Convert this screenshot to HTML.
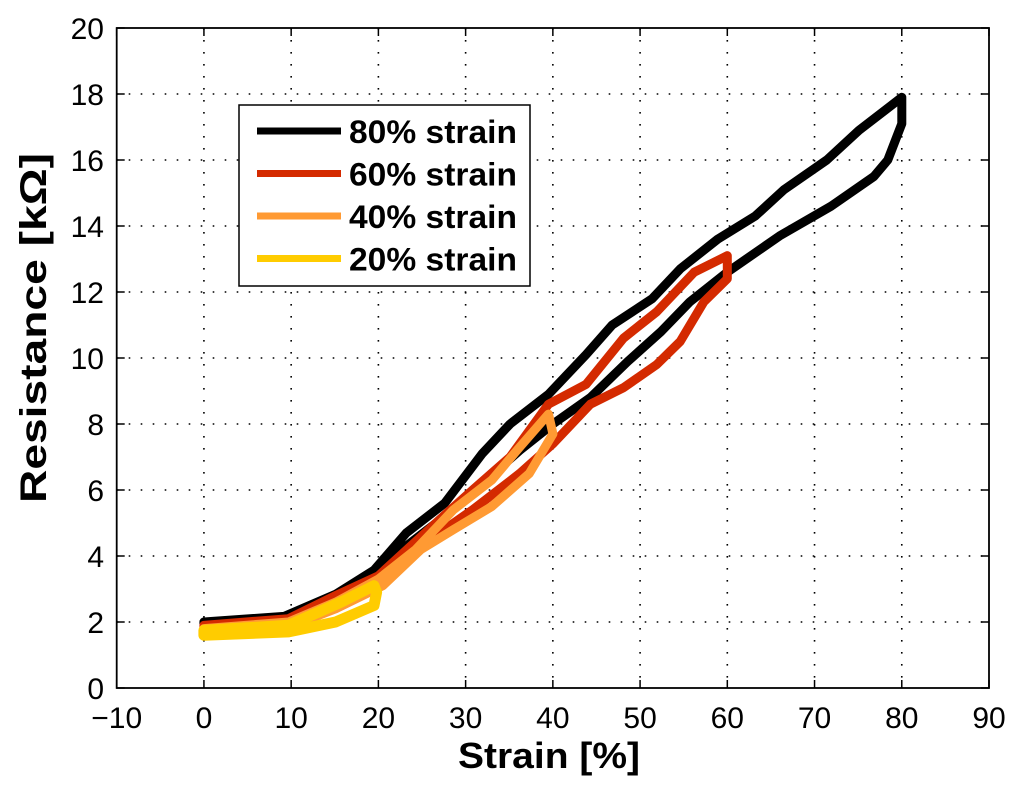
<!DOCTYPE html>
<html><head><meta charset="utf-8"><style>
body{margin:0;background:#fff}
svg{display:block;font-family:"Liberation Sans",sans-serif}
</style></head><body>
<svg id="chart" width="1024" height="794" viewBox="0 0 1024 794">
<rect width="1024" height="794" fill="#fff"/>
<g id="grid"></g>
<g id="series"></g>
<g id="axes"></g>
<text x="549" y="768" text-anchor="middle" font-size="36" font-weight="bold" textLength="182" lengthAdjust="spacingAndGlyphs">Strain [%]</text>
<text transform="translate(46,328) rotate(-90)" text-anchor="middle" font-size="37" font-weight="bold" textLength="350" lengthAdjust="spacingAndGlyphs">Resistance [kΩ]</text>
<g id="legend">
<rect x="239" y="105" width="291" height="181" fill="#fff" stroke="#000" stroke-width="1.5"/>
</g>
</svg>
<script>
const xTicks=[-10,0,10,20,30,40,50,60,70,80,90];
const yTicks=[0,2,4,6,8,10,12,14,16,18,20];
const seriesNames=["80% strain","60% strain","40% strain","20% strain"];
const seriesColors=["#000000","#d42a00","#ff9a33","#ffcc00"];
const s80x=[0,9.2,15.1,19.5,23.2,27.6,31.9,35.1,39.5,43.8,46.8,51.4,54.6,58.9,63.2,66.5,71.4,75.1,80,80,78.4,76.8,71.9,66,60,55.7,52.4,48.6,44.3,40,36.2,31.9,27.6,23.2,20,15.7,9.7,0];
const s80y=[2.0,2.17,2.84,3.57,4.7,5.6,7.1,8.0,8.9,10.1,11.0,11.8,12.7,13.6,14.3,15.1,16.0,16.9,17.9,17.1,16.0,15.5,14.6,13.7,12.6,11.7,10.8,9.9,8.8,8.0,7.2,6.2,5.2,4.3,3.35,2.8,2.17,1.95];
const s60x=[0,9.7,15.1,20,27,30.8,35.1,39.5,43.8,48.1,51.9,56.2,60,60,57.3,54.6,51.9,48.1,44.3,40,36.2,30.8,25.4,20,15.1,9.7,0];
const s60y=[1.9,2.1,2.8,3.4,5.1,6.0,7.0,8.6,9.2,10.6,11.4,12.6,13.1,12.4,11.7,10.5,9.8,9.1,8.6,7.4,6.5,5.4,4.4,3.2,2.7,2.0,1.85];
const s40x=[0,9.7,15.1,20,24.3,28.6,33,36.2,39.5,40,37.3,33,28.6,24.9,20.5,15.1,9.7,0];
const s40y=[1.8,2.0,2.6,3.3,4.2,5.4,6.3,7.3,8.3,7.7,6.5,5.5,4.8,4.2,3.1,2.4,1.85,1.7];
const s20x=[0,9.7,15.7,19.5,19.8,19.5,15.1,9.7,0];
const s20y=[1.75,1.9,2.6,3.1,2.9,2.5,2.0,1.7,1.6];
const SX=[s80x,s60x,s40x,s20x], SY=[s80y,s60y,s40y,s20y], SW=[9,9,9,11];

const L=116.7,R=989,T=28,B=688;
const xs=v=>L+(v+10)/100*(R-L);
const ys=v=>B-v/20*(B-T);
const NS="http://www.w3.org/2000/svg";
function mk(t,a,p){const e=document.createElementNS(NS,t);for(const k in a)e.setAttribute(k,a[k]);p.appendChild(e);return e;}
const grid=document.getElementById('grid'),axes=document.getElementById('axes'),ser=document.getElementById('series'),leg=document.getElementById('legend');
xTicks.forEach(v=>{const x=xs(v);
 if(v>-10&&v<90){const g=mk('line',{x1:x,x2:x,y1:T,y2:B,stroke:'#000','stroke-width':1.6,'stroke-dasharray':'1.6 10.4'},grid);
 
 }
 mk('line',{x1:x,x2:x,y1:B,y2:B-8,stroke:'#000','stroke-width':1.5},axes);
 mk('line',{x1:x,x2:x,y1:T,y2:T+8,stroke:'#000','stroke-width':1.5},axes);
 const t=mk('text',{x:x,y:728,'text-anchor':'middle','font-size':30},axes);t.textContent=(v<0?'\u2212'+(-v):v);
 
 
});
yTicks.forEach(v=>{const y=ys(v);
 if(v>0&&v<20){const g=mk('line',{x1:L,x2:R,y1:y,y2:y,stroke:'#000','stroke-width':1.6,'stroke-dasharray':'1.6 10.4'},grid);
 
 }
 mk('line',{x1:L,x2:L+8,y1:y,y2:y,stroke:'#000','stroke-width':1.5},axes);
 mk('line',{x1:R,x2:R-8,y1:y,y2:y,stroke:'#000','stroke-width':1.5},axes);
 const t=mk('text',{x:104,y:y+11,'text-anchor':'end','font-size':30},axes);t.textContent=v;
 
 
});
const fr=mk('rect',{x:L,y:T,width:R-L,height:B-T,fill:'none',stroke:'#000','stroke-width':1.8},axes);


SX.forEach((xa,i)=>{const pts=xa.map((x,j)=>xs(x).toFixed(1)+','+ys(SY[i][j]).toFixed(1)).join(' ');
 const p=mk('polygon',{points:pts,fill:'none',stroke:seriesColors[i],'stroke-width':SW[i],'stroke-linejoin':'round'},ser);
 
 
});
seriesNames.forEach((n,i)=>{const y=131+i*42.5;
 const l=mk('line',{x1:257,x2:341,y1:y,y2:y,stroke:seriesColors[i],'stroke-width':7},leg);
 
 
 const t=mk('text',{x:349,y:y+12,'font-size':32,'font-weight':'bold',textLength:168,lengthAdjust:'spacingAndGlyphs'},leg);t.textContent=n;
 
 
});
</script>
</body></html>
